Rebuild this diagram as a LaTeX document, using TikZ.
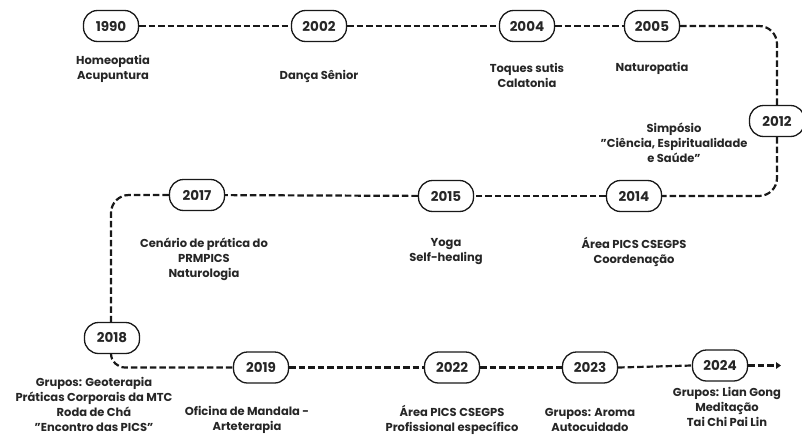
\documentclass[tikz,border=0pt]{standalone}
\usepackage{fontspec}
\setmainfont{Poppins}
\usetikzlibrary{arrows.meta}
\begin{document}
\begin{tikzpicture}[x=1pt,y=-1pt,
  year/.style={draw=black!90, line width=1.3pt, rounded corners=14pt, minimum width=55pt, minimum height=31pt, inner sep=0pt, font=\fontsize{13.5}{15}\selectfont\bfseries, text=black!85},
  desc/.style={align=center, inner sep=0pt, font=\fontsize{11.5}{15}\selectfont\bfseries, text=black!85},
  tl/.style={line width=2.2pt, dash pattern=on 6.5pt off 3pt, black!90}]
\useasboundingbox (0,0) rectangle (802,444);
% year nodes
\node[year] (n1990) at (111,26) {1990};
\node[year] (n2002) at (319,26) {2002};
\node[year] (n2004) at (527,26) {2004};
\node[year] (n2005) at (652,26) {2005};
\node[year] (n2012) at (777,121) {2012};
\node[year] (n2014) at (634,196) {2014};
\node[year] (n2015) at (446,196) {2015};
\node[year] (n2017) at (197,195) {2017};
\node[year] (n2018) at (112,338) {2018};
\node[year] (n2019) at (261,367.5) {2019};
\node[year] (n2022) at (452,367.5) {2022};
\node[year] (n2023) at (590,367.5) {2023};
\node[year] (n2024) at (720,365.5) {2024};
% corner coordinates
\coordinate (c1) at (777,26);
\coordinate (c2) at (777,196);
\coordinate (c3) at (111,195);
\coordinate (c4) at (111,367.5);
\coordinate (aend) at (781,365.5);
% connectors
\draw[tl] (n1990) -- (n2002);
\draw[tl] (n2002) -- (n2004);
\draw[tl] (n2004) -- (n2005);
\draw[tl,rounded corners=18pt] (n2005.east) -- (c1) -- (n2012.north);
\draw[tl,rounded corners=18pt] (n2012.south) -- (c2) -- (n2014.east);
\draw[tl] (n2014) -- (n2015);
\draw[tl] (n2015) -- (n2017);
\draw[tl,rounded corners=18pt] (n2017.west) -- (c3) -- (c3 |- n2018.north);
\draw[tl,rounded corners=14pt] (c4 |- n2018.south) -- (c4) -- (n2019.west);
\draw[tl] (n2019) -- (n2022);
\draw[tl] (n2022) -- (n2023);
\draw[tl] (n2023.east) -- (n2024.west);
\draw[tl,-{Triangle[length=5pt,width=6.5pt]}] (n2024.east) -- (aend);
% descriptions
\node[desc] (d1990) at (113,68.5) {Homeopatia\\Acupuntura};
\node[desc] (d2002) at (319,76) {Dança Sênior};
\node[desc] (d2004) at (527,75.5) {Toques sutis\\Calatonia};
\node[desc] (d2005) at (652,68) {Naturopatia};
\node[desc] (d2012) at (674,143) {Simpósio\\"Ciência, Espiritualidade\\e Saúde"};
\node[desc] (d2017) at (204,259) {Cenário de prática do\\PRMPICS\\Naturologia};
\node[desc] (d2015) at (446,252) {Yoga\\Self-healing};
\node[desc] (d2014) at (634,252) {Área PICS CSEGPS\\Coordenação};
\node[desc] (d2018) at (94,404.5) {Grupos: Geoterapia\\Práticas Corporais da MTC\\Roda de Chá\\"Encontro das PICS"};
\node[desc] (d2019) at (247,419.5) {Oficina de Mandala -\\Arteterapia};
\node[desc] (d2022) at (452,419.5) {Área PICS CSEGPS\\Profissional específico};
\node[desc] (d2023) at (590,419.5) {Grupos: Aroma\\Autocuidado};
\node[desc] (d2024) at (727,407) {Grupos: Lian Gong\\Meditação\\Tai Chi Pai Lin};
\end{tikzpicture}
\end{document}
